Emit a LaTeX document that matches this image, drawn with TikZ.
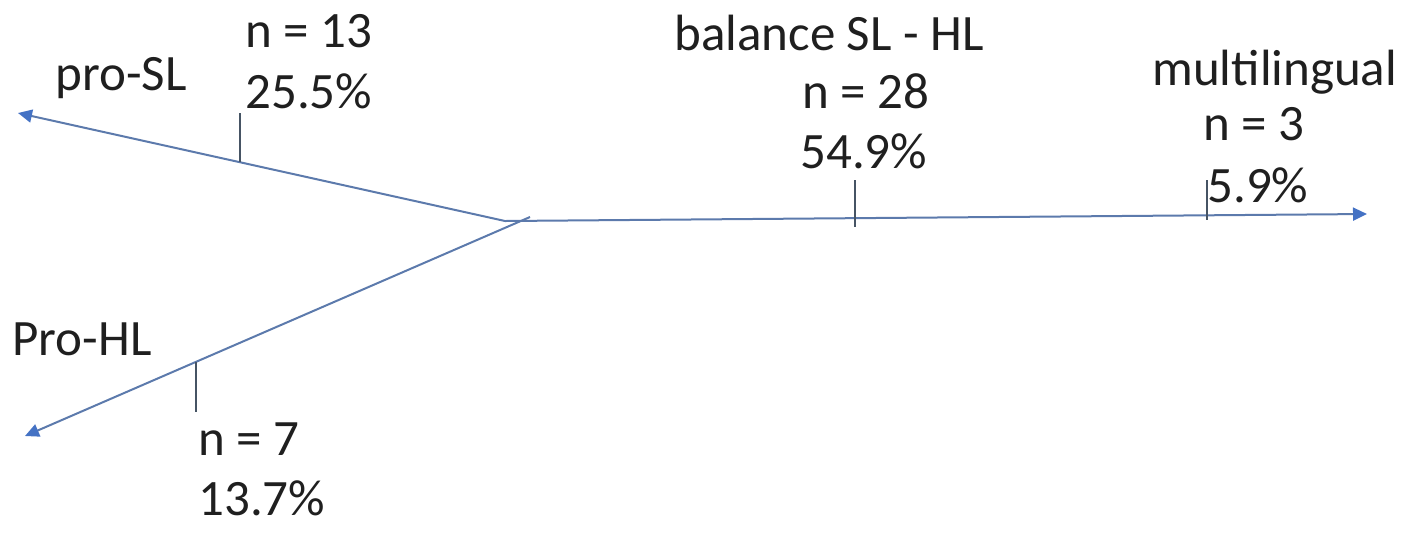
\documentclass[tikz,border=0pt]{standalone}
\usepackage{fontspec}
\setmainfont{Carlito}
\usetikzlibrary{arrows.meta}
\definecolor{branchline}{RGB}{92,122,172}
\definecolor{branchhead}{RGB}{68,114,196}
\definecolor{tickgrey}{RGB}{70,84,100}
\tikzset{
    branch/.style={draw=branchline,line width=1pt,-{Triangle[length=7pt,width=6.5pt,color=branchhead]}},
    tick mark/.style={draw=tickgrey,line width=0.8pt},
    count text/.style={inner sep=0pt,anchor=base west,text=black!88,font=\fontsize{25.5}{30}\selectfont},
}

\begin{document}
\begin{tikzpicture}[x=0.5pt,y=-0.5pt]
    \useasboundingbox (0,0) rectangle (1418,532);

    \coordinate (junc) at (505,221);
    \coordinate (junchl) at (530,217);
    \coordinate (slend) at (18,113);
    \coordinate (hlend) at (25,436);
    \coordinate (mlend) at (1367,214);

    \draw[branch] (junc) -- (slend);
    \draw[branch] (junchl) -- (hlend);
    \draw[branch] (junc) -- (mlend);

    % markers on the branches
    \coordinate (sltop) at (240,113);
    \coordinate (slbot) at (240,162);
    \coordinate (hltop) at (196,362);
    \coordinate (hlbot) at (196,412);
    \coordinate (baltop) at (855,180);
    \coordinate (balbot) at (855,227);
    \coordinate (multop) at (1207,180);
    \coordinate (mulbot) at (1207,220);
    \draw[tick mark] (sltop) -- (slbot);
    \draw[tick mark] (hltop) -- (hlbot);
    \draw[tick mark] (baltop) -- (balbot);
    \draw[tick mark] (multop) -- (mulbot);

    \node[count text] (slname) at (55,90) {pro-SL};
    \node[count text] (sln) at (245,47) {n = 13};
    \node[count text] (slpct) at (245,108) {25.5\%};

    \node[count text] (hlname) at (12,355) {Pro-HL};
    \node[count text] (hln) at (198,455) {n = 7};
    \node[count text] (hlpct) at (198,515) {13.7\%};

    \node[count text] (balname) at (674,50) {balance SL - HL};
    \node[count text] (baln) at (802,108) {n = 28};
    \node[count text] (balpct) at (800,168) {54.9\%};

    \node[count text] (mulname) at (1152,85) {multilingual};
    \node[count text] (muln) at (1203,140) {n = 3};
    \node[count text] (mulpct) at (1207,202) {5.9\%};
\end{tikzpicture}
\end{document}
